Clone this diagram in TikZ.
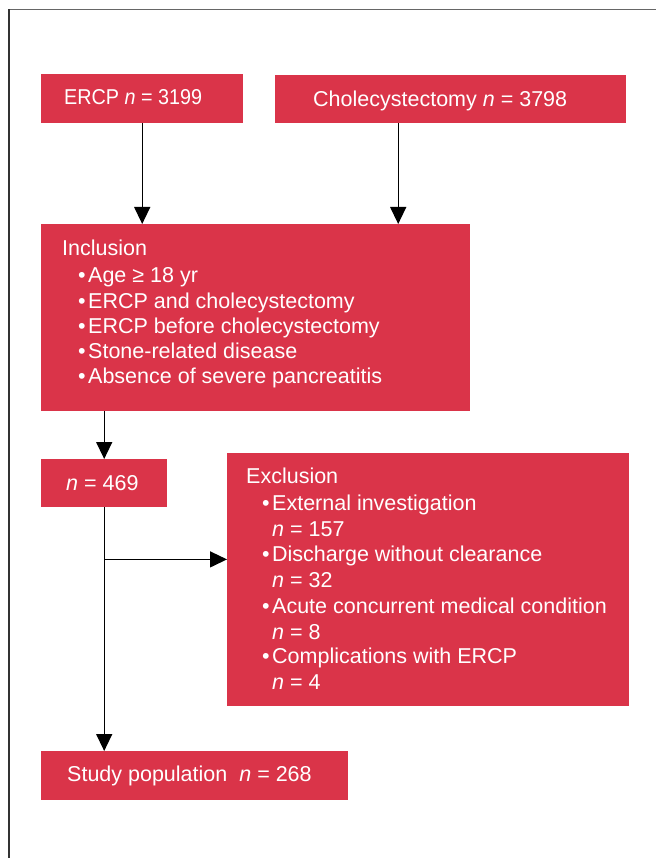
\documentclass[tikz,border=0pt]{standalone}
\usepackage{fontspec}
\setmainfont{Liberation Sans}
\newfontfamily\condf[FakeStretch=0.92]{Liberation Sans}
\usetikzlibrary{arrows.meta}
\definecolor{boxred}{RGB}{218,52,73}
\newcommand\mybullet{\makebox[10pt][l]{•}}
\begin{document}
\begin{tikzpicture}[x=1pt,y=-1pt,
  box/.style={fill=boxred, draw=none, anchor=north west, inner sep=0pt},
  txt/.style={text=white, anchor=base west, inner sep=0pt, font=\fontsize{21.5}{25}\selectfont},
  arr/.style={line width=1.4pt, -{Triangle[width=16pt,length=17pt]}},
  ]
\useasboundingbox (0,0) rectangle (656,858);
\fill[white] (0,0) rectangle (656,858);
\draw[line width=1.5pt, color=black!60] (9,9.5) -- (656,9.5);
\draw[line width=1.5pt, color=black!80] (9,858) -- (9,8.75);

% boxes
\node[box, minimum width=202pt, minimum height=49pt] (ercp) at (41,74) {};
\node[txt, font=\condf\fontsize{21.5}{25}\selectfont] (ercpT) at (64,105) {ERCP \textit{n} = 3199};

\node[box, minimum width=351pt, minimum height=48pt] (chole) at (275,75) {};
\node[txt] (choleT) at (313,107) {Cholecystectomy \textit{n} = 3798};

\node[box, minimum width=429pt, minimum height=187pt] (inc) at (41,224) {};
\node[txt] (incH) at (62,255) {Inclusion};
\node[txt] (inc1) at (78,283) {\mybullet Age ≥ 18 yr};
\node[txt] (inc2) at (78,308) {\mybullet ERCP and cholecystectomy};
\node[txt] (inc3) at (78,333) {\mybullet ERCP before cholecystectomy};
\node[txt] (inc4) at (78,358) {\mybullet Stone-related disease};
\node[txt] (inc5) at (78,383) {\mybullet Absence of severe pancreatitis};

\node[box, minimum width=126pt, minimum height=48pt] (n469) at (41,459) {};
\node[txt] (n469T) at (66,490) {\textit{n} = 469};

\node[box, minimum width=402pt, minimum height=253pt] (exc) at (227,453) {};
\node[txt] (excH) at (246,483) {Exclusion};
\node[txt] (exc1) at (262,510) {\mybullet External investigation};
\node[txt] (exc1n) at (272,536) {\textit{n} = 157};
\node[txt] (exc2) at (262,561) {\mybullet Discharge without clearance};
\node[txt] (exc2n) at (272,587) {\textit{n} = 32};
\node[txt] (exc3) at (262,613) {\mybullet Acute concurrent medical condition};
\node[txt] (exc3n) at (272,639) {\textit{n} = 8};
\node[txt] (exc4) at (262,663) {\mybullet Complications with ERCP};
\node[txt] (exc4n) at (272,689) {\textit{n} = 4};

\node[box, minimum width=307pt, minimum height=49pt] (study) at (41,751) {};
\node[txt] (studyT) at (67,781) {Study population\ \ \textit{n} = 268};

% connectors
\draw[arr] (ercp.south) -- (ercp.south |- inc.north);
\coordinate (cholex) at ([xshift=-52.5pt]chole.south);
\draw[arr] (cholex) -- (cholex |- inc.north);
\draw[arr] (inc.south -| n469.south) -- (n469.north);
\draw[arr] (n469.south) -- (n469.south |- study.north);
\coordinate (br) at ([yshift=-52pt]n469.south);
\draw[arr] (br) -- (br -| exc.west);
\end{tikzpicture}
\end{document}
